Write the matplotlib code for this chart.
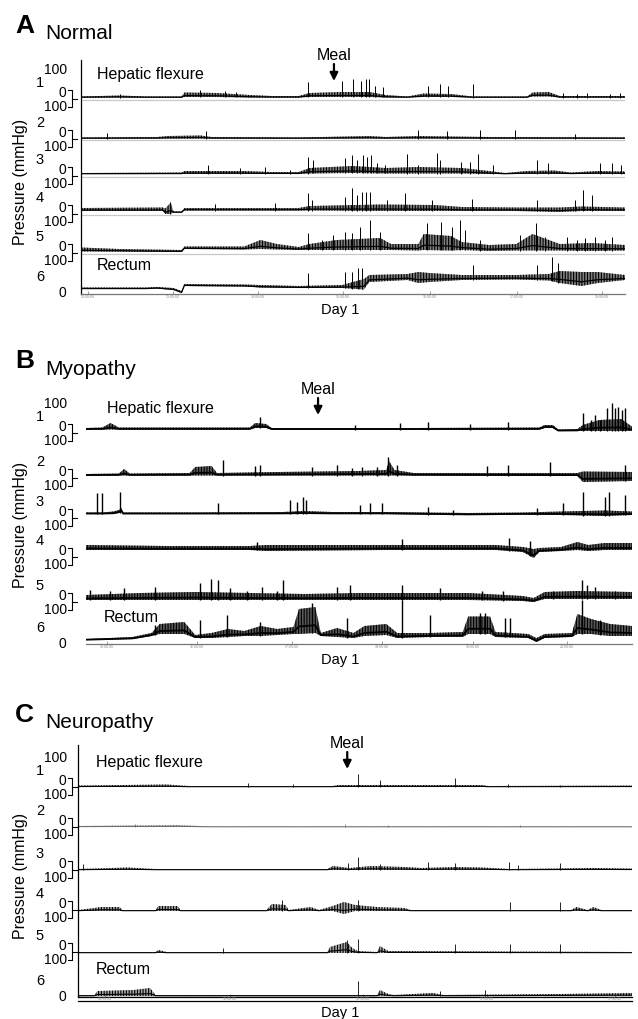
import matplotlib.pyplot as plt
import numpy as np
from matplotlib.lines import Line2D

plt.rcParams['font.family'] = ['Liberation Sans', 'DejaVu Sans']
plt.rcParams['hatch.linewidth'] = 0.8

# ===== data: (time %, low, high) envelope knots in mmHg, spikes as (time %, peak mmHg) =====
# ---- A: Normal ----
normal_ch1 = [(0, 10, 14), (7, 10, 18), (12, 10, 14), (18.5, 10, 14), (19, 12, 30), (25, 12, 28),
              (31, 10, 20), (35, 10, 16), (40, 10, 16), (42, 12, 28), (48, 12, 32), (53, 12, 32),
              (56, 10, 20), (60, 10, 14), (63, 12, 26), (68, 12, 24), (72, 10, 14), (82, 10, 14),
              (83, 14, 30), (86, 14, 32), (88, 10, 16), (100, 10, 16)]
normal_ch1_spikes = [(7.2, 24), (21.9, 40), (26.5, 36), (28.5, 32), (41.7, 72), (48.0, 76), (50.0, 84),
                     (51.5, 76), (52.4, 84), (52.9, 84), (54.0, 56), (55.5, 52), (63.8, 56), (66.0, 64),
                     (67.5, 56), (72.1, 64), (88.6, 28), (91.2, 24), (93.0, 28), (97.2, 24), (99.1, 28)]
normal_ch2 = [(0, 6, 10), (14, 6, 12), (16, 6, 16), (22, 6, 18), (24, 6, 12), (40, 6, 10), (53, 6, 16),
              (56, 6, 12), (62, 6, 16), (68, 6, 14), (75, 6, 12), (100, 6, 10)]
normal_ch2_spikes = [(4.8, 28), (23.0, 36), (62.0, 40), (67.3, 36), (73.3, 40), (79.8, 40), (90.8, 24)]
normal_ch3 = [(0, 12, 16), (18.5, 12, 18), (19, 12, 24), (30, 12, 24), (35, 12, 20), (40, 12, 20),
              (42, 14, 36), (50, 16, 44), (56, 14, 36), (62, 14, 40), (70, 14, 36), (75, 12, 24),
              (78, 12, 16), (82, 12, 24), (87, 12, 26), (90, 12, 18), (95, 12, 24), (100, 12, 22)]
normal_ch3_spikes = [(23.3, 48), (29.2, 36), (33.8, 40), (38.4, 28), (41.7, 80), (42.6, 68), (48.5, 76),
                     (49.8, 88), (50.7, 68), (51.8, 88), (52.6, 80), (53.3, 88), (54.4, 56), (55.9, 48),
                     (59.9, 92), (61.9, 48), (65.4, 96), (66.0, 68), (69.9, 60), (71.5, 60), (73.0, 92),
                     (75.7, 48), (83.8, 68), (85.8, 56), (95.4, 56), (97.6, 56), (99.3, 48)]
normal_ch4 = [(0, 16, 28), (15, 16, 30), (15.5, 4, 26), (16.5, 4, 50), (17, 10, 14), (18.5, 10, 14),
              (19, 18, 28), (40, 18, 28), (42, 18, 36), (55, 16, 42), (65, 16, 40), (70, 16, 32),
              (80, 16, 30), (88, 12, 30), (92, 16, 34), (100, 16, 30)]
normal_ch4_spikes = [(16.4, 52), (24.6, 44), (35.7, 48), (41.7, 88), (42.5, 60), (48.5, 72), (49.8, 108),
                     (50.7, 80), (51.7, 92), (52.4, 92), (53.1, 92), (56.3, 60), (59.6, 88), (64.5, 60),
                     (71.9, 64), (83.8, 60), (90.8, 60), (92.3, 100), (93.9, 80)]
normal_ch5 = [(0, 10, 26), (7, 10, 20), (18.5, 8, 16), (19, 20, 30), (30, 18, 30), (33, 20, 56),
              (36, 18, 40), (40, 16, 28), (42, 16, 40), (47, 16, 56), (55, 16, 64), (57, 16, 40),
              (62, 14, 40), (63, 16, 80), (68, 14, 72), (70, 16, 48), (75, 12, 36), (80, 14, 40),
              (83, 14, 80), (86, 14, 56), (88, 14, 40), (94, 12, 44), (100, 14, 36)]
normal_ch5_spikes = [(41.7, 84), (44.3, 56), (46.3, 76), (48.5, 88), (49.8, 84), (51.3, 108), (53.1, 136),
                     (55.0, 88), (63.6, 124), (66.2, 128), (68.2, 108), (69.7, 136), (70.6, 96),
                     (73.3, 56), (80.7, 76), (83.6, 124), (85.3, 68), (89.3, 68), (91.2, 56), (92.6, 64),
                     (94.5, 68), (96.3, 56), (97.6, 68)]
normal_ch6 = [(0, 16, 22), (12, 16, 22), (14, 18, 24), (17, 12, 20), (18.5, 0, 8), (19, 28, 36),
              (30, 26, 34), (33, 22, 32), (40, 20, 28), (48, 20, 32), (52, 14, 56), (53, 44, 72),
              (60, 52, 76), (62, 40, 84), (64, 44, 80), (70, 52, 72), (80, 54, 72), (86, 50, 76),
              (88, 40, 88), (92, 28, 84), (95, 40, 84), (100, 52, 72)]
normal_ch6_spikes = [(41.7, 80), (48.5, 84), (49.8, 84), (50.9, 100), (51.7, 100), (72.1, 112),
                     (83.8, 112), (86.6, 144), (87.7, 120)]
normal_meal = 46.5
normal_ticks = ['12:00:00', '13:00:00', '14:00:00', '15:00:00', '16:00:00', '17:00:00', '18:00:00']

# ---- B: Myopathy ----
myo_ch1 = [(0, 18, 24), (3, 18, 26), (4.5, 18, 44), (6, 18, 26), (30, 18, 26), (31, 24, 44), (33, 24, 40),
           (34, 18, 24), (60, 18, 24), (83, 18, 26), (84, 24, 36), (85.5, 24, 36), (86.5, 12, 18),
           (90, 12, 20), (91, 12, 36), (94, 12, 56), (98, 12, 60), (100, 12, 30)]
myo_ch1_spikes = [(31.9, 68), (49.3, 36), (57.5, 44), (62.6, 48), (70.3, 40), (77.3, 48), (91.0, 84),
                  (92.5, 56), (93.2, 76), (94.1, 56), (95.4, 104), (96.3, 124), (96.9, 104), (97.4, 108),
                  (98.2, 96), (98.7, 104)]
myo_ch2 = [(0, 14, 20), (6, 14, 22), (7, 14, 40), (8, 14, 22), (19, 14, 24), (20, 14, 48), (23, 14, 52),
           (24, 14, 24), (35, 14, 28), (50, 14, 32), (55, 14, 36), (55.5, 14, 72), (56.5, 14, 36),
           (60, 14, 24), (90, 12, 24), (91, -12, 30), (100, -8, 28)]
myo_ch2_spikes = [(25.1, 76), (31.0, 52), (31.9, 56), (41.4, 48), (46.0, 56), (48.7, 44), (50.5, 48),
                  (53.3, 48), (55.3, 88), (57.0, 56), (73.4, 52), (77.3, 56), (85.0, 68), (98.7, 56)]
myo_ch3 = [(0, 20, 26), (3, 20, 26), (5, 20, 30), (6, 24, 36), (6.5, 28, 44), (6.8, 20, 26), (20, 20, 26),
           (36, 20, 28), (40, 20, 32), (45, 20, 28), (55, 20, 28), (70, 16, 24), (80, 18, 26),
           (87, 16, 30), (95, 12, 34), (100, 16, 30)]
myo_ch3_spikes = [(2.0, 104), (2.9, 104), (6.2, 108), (24.2, 64), (37.4, 76), (38.6, 68), (39.7, 88),
                  (40.3, 76), (50.2, 56), (52.0, 64), (54.2, 64), (62.6, 48), (67.2, 36), (82.6, 44),
                  (87.4, 64), (91.0, 108), (95.1, 88), (95.8, 108), (98.7, 96)]
myo_ch4 = [(0, 32, 52), (15, 32, 48), (30, 32, 48), (33, 28, 52), (55, 32, 52), (75, 32, 52), (80, 24, 44),
           (82, 0, 36), (83, 24, 40), (87, 28, 44), (90, 32, 64), (92, 28, 52), (95, 32, 60), (100, 32, 60)]
myo_ch4_spikes = [(31.3, 64), (57.9, 76), (77.5, 80), (81.3, 68)]
myo_ch5 = [(0, 12, 32), (10, 12, 40), (20, 12, 44), (30, 12, 40), (40, 12, 36), (50, 12, 40), (60, 12, 40),
           (70, 12, 40), (80, 8, 28), (82, 4, 20), (84, 16, 44), (90, 16, 48), (100, 16, 44)]
myo_ch5_spikes = [(0.7, 52), (4.4, 48), (7.0, 60), (12.6, 64), (20.9, 80), (22.9, 96), (24.2, 92),
                  (26.4, 60), (29.5, 48), (32.2, 64), (35.0, 48), (36.1, 92), (46.0, 64), (48.4, 72),
                  (57.9, 72), (64.8, 60), (72.5, 48), (76.4, 48), (85.5, 48), (90.8, 92), (91.8, 72),
                  (93.2, 64), (96.9, 48)]
myo_ch6 = [(0, 16, 20), (8.5, 20, 28), (12, 32, 44), (13.5, 40, 80), (18, 40, 88), (20, 24, 36),
           (23, 24, 44), (26, 28, 60), (29, 32, 52), (32, 32, 72), (35, 36, 60), (38, 40, 68),
           (39, 40, 140), (42, 44, 148), (43, 32, 44), (46, 28, 64), (49, 24, 44), (51, 32, 72),
           (55, 36, 80), (57, 24, 44), (63, 28, 44), (69, 28, 48), (70, 40, 110), (74, 40, 110),
           (75, 28, 48), (81, 24, 40), (82.5, 8, 24), (84, 24, 40), (89, 28, 44), (90, 40, 120),
           (92.5, 40, 100), (96, 32, 80), (100, 32, 72)]
myo_ch6_spikes = [(12.6, 76), (20.9, 96), (25.8, 116), (31.9, 88), (41.4, 164), (47.8, 104), (57.9, 176),
                  (63.0, 116), (72.2, 124), (73.1, 124), (76.7, 104), (77.7, 104), (90.8, 176), (94.1, 96)]
myo_meal = 42.5
myo_ticks = ['15:00:00', '16:00:00', '17:00:00', '18:00:00', '19:00:00', '20:00:00']

# ---- C: Neuropathy ----
neuro_ch1 = [(0, 4, 10), (16, 4, 14), (20, 4, 8), (46, 4, 8), (47, 4, 12), (73, 4, 12), (74, 4, 8),
             (100, 4, 10)]
neuro_ch1_spikes = [(30.7, 20), (38.8, 16), (50.5, 56), (54.5, 32), (68.1, 40), (77.6, 16), (87.0, 12)]
neuro_ch2 = [(0, 4, 8), (18, 4, 12), (24, 4, 6), (100, 4, 6)]
neuro_ch2_spikes = [(10.3, 16), (48.2, 16), (56.0, 12), (79.8, 12)]
neuro_ch3 = [(0, 4, 8), (9, 4, 14), (14, 4, 8), (45, 4, 8), (46, 4, 20), (49, 4, 12), (53, 4, 20),
             (59, 4, 16), (62, 4, 12), (68, 4, 16), (73, 4, 14), (78, 4, 8), (93, 4, 12), (100, 4, 10)]
neuro_ch3_spikes = [(0.9, 28), (48.7, 32), (50.5, 56), (54.5, 28), (63.2, 36), (68.1, 32), (77.8, 36),
                    (79.4, 24), (87.0, 32)]
neuro_ch4 = [(0, 0, 4), (3, 0, 12), (4, 0, 16), (7.5, 0, 16), (8, 0, 4), (14, 0, 4), (14.5, 0, 20),
             (18, 0, 20), (18.5, 0, 4), (34, 0, 4), (35, 0, 28), (37.5, 0, 24), (38, 0, 4), (42, 0, 16),
             (43.5, 0, 4), (46, 0, 20), (48, -12, 36), (50, 0, 24), (54, 0, 16), (59, 0, 12), (60, 0, 4),
             (89, 0, 4), (90, 0, 16), (92, 0, 4), (93, 0, 16), (94.5, 0, 4), (100, 0, 4)]
neuro_ch4_spikes = [(36.8, 44), (50.5, 44), (78.0, 36), (87.0, 36)]
neuro_ch5 = [(0, 0, 4), (14, 0, 4), (14.5, 0, 12), (16, 0, 4), (45, 0, 4), (45.5, 0, 24), (48.5, 0, 44),
             (49.5, 0, 20), (50.5, 0, 8), (54, 0, 4), (54.5, 0, 28), (56, 0, 8), (100, 0, 4)]
neuro_ch5_spikes = [(26.2, 20), (48.6, 52), (50.5, 56), (68.1, 36), (78.0, 36), (87.0, 36)]
neuro_ch6 = [(0, 4, 8), (3, 4, 8), (3.5, 4, 24), (10, 4, 28), (13, 4, 36), (14, 4, 8), (27, 4, 8),
             (54, 4, 8), (54.5, 4, 28), (56, 4, 12), (57, 4, 8), (64, 4, 16), (66, 4, 8), (87, 4, 12),
             (100, 4, 16)]
neuro_ch6_spikes = [(50.5, 64), (65.3, 24), (73.5, 28)]
neuro_meal = 48.6
neuro_ticks = ['15:30:00', '16:00:00', '16:30:00', '17:00:00', '17:30:00']

# ===== layout (figure pixels) =====
W, H = 638, 1019
PX = 4.0  # mmHg per pixel
fig = plt.figure(figsize=(W / 100, H / 100), dpi=100)


def fx(x):
    return x / W


def fy(y):
    return 1 - y / H


def ftext(x, y, s, **kw):
    fig.text(fx(x), fy(y), s, **kw)


def fline(xs, ys, **kw):
    fig.add_artist(Line2D([fx(v) for v in xs], [fy(v) for v in ys], **kw))


def draw_trace(ax, off, knots, spikes, color='black', lw=0.7, shade=0.3):
    t = np.array([k[0] for k in knots])
    lo = np.array([k[1] for k in knots])
    hi = np.array([k[2] for k in knots])
    # dense activity: hatched envelope over a solid lower trace
    ax.fill_between(t, off + lo, off + hi, facecolor=color, alpha=shade, linewidth=0)
    ax.fill_between(t, off + lo, off + hi, facecolor='none', edgecolor=color, hatch='||||||',
                    linewidth=0)
    ax.plot(t, off + lo + (hi - lo) * 0.3, color=color, lw=lw * 1.3)
    st = np.array([s[0] for s in spikes])
    sh = np.array([s[1] for s in spikes])
    ax.vlines(st, off + np.interp(st, t, lo), off + sh, color=color, linewidth=lw)


def panel(letter, title, box, zs, traces, meal, ticks, tick_pos, title_y, hep_x, rect_x,
          meal_y, lw, spine_left, gray_zero, shade, bottom2=None):
    left, right, top, bottom = box
    ax = fig.add_axes([fx(left), fy(bottom), (right - left) / W, (bottom - top) / H])
    ax.set_xlim(0, 100)
    ax.set_ylim(0, (bottom - top) * PX)
    for s in ['top', 'right']:
        ax.spines[s].set_visible(False)
    ax.spines['left'].set_visible(spine_left)
    ax.spines['left'].set_linewidth(0.9)
    ax.spines['bottom'].set_color('#777777' if bottom2 is None else 'black')
    ax.spines['bottom'].set_linewidth(0.9)
    ax.set_yticks([])
    ax.set_xticks(tick_pos)
    ax.set_xticklabels([])
    ax.tick_params(axis='x', length=2, width=0.5, color='#777777', direction='in')
    for p, lab in zip(tick_pos, ticks):
        ax.text(p, -1.5 * PX if bottom2 is None else -0.5 * PX, lab, fontsize=2.6, color='#888888',
                ha='center', va='top', clip_on=False)

    for i, (z, (knots, spikes)) in enumerate(zip(zs, traces)):
        off = (bottom - z) * PX
        if gray_zero and i < 5:
            ax.axhline(off, color='#c8c8c8', lw=0.9, zorder=0)
        col, w = ('#666666', 0.5) if (letter == 'C' and i == 1) else ('black', lw)
        draw_trace(ax, off, knots, spikes, color=col, lw=w, shade=shade)
    if bottom2 is not None:
        ax.axhline((bottom - zs[5]) * PX, color='black', lw=0.9)

    # channel labels and axis-break brackets
    ftext(67, zs[0] - 30, '100', fontsize=10, ha='right', va='center')
    for i, z in enumerate(zs):
        ftext(40, z - 17 if i < 5 else z - 16, str(i + 1), fontsize=10.5, ha='center', va='center')
        if i < 5:
            ftext(66, z - 7, '0', fontsize=10, ha='right', va='center')
            ftext(67, z + 7, '100', fontsize=10, ha='right', va='center')
            fline([67.5, 72, 72, 67.5], [z - 10, z - 10, z + 7, z + 7], color='black', lw=0.8)
            fline([72, 77], [z - 1, z - 1], color='black', lw=0.8)
        else:
            ftext(66, z, '0', fontsize=10, ha='right', va='center')

    ftext(15, title_y[0], letter, fontsize=19, fontweight='bold', ha='left', va='baseline')
    ftext(45, title_y[1], title, fontsize=15, ha='left', va='baseline')
    ftext(hep_x, zs[0] - 26, 'Hepatic flexure', fontsize=11.5, ha='left', va='center')
    ftext(rect_x, zs[5] - 27, 'Rectum', fontsize=11.5, ha='left', va='center')
    ftext(21, (top + bottom) / 2 + 5, 'Pressure (mmHg)', fontsize=11.5, rotation=90,
          ha='center', va='center')
    ftext(340, bottom + 16, 'Day 1', fontsize=10.5, ha='center', va='center')

    # meal marker
    mx = left + meal / 100 * (right - left)
    ftext(mx, meal_y - 8, 'Meal', fontsize=11.5, ha='center', va='center')
    ax.annotate('', xy=(meal, fy(meal_y + 17)), xytext=(meal, fy(meal_y)),
                xycoords=('data', 'figure fraction'), textcoords=('data', 'figure fraction'),
                arrowprops=dict(arrowstyle='-|>', color='black', lw=1.6, mutation_scale=12,
                                shrinkA=0, shrinkB=0), annotation_clip=False)
    if bottom2 is not None:
        fline([left, right], [bottom2, bottom2], color='black', lw=0.9)
    return ax


normal_traces = [(normal_ch1, normal_ch1_spikes), (normal_ch2, normal_ch2_spikes),
                 (normal_ch3, normal_ch3_spikes), (normal_ch4, normal_ch4_spikes),
                 (normal_ch5, normal_ch5_spikes), (normal_ch6, normal_ch6_spikes)]
myo_traces = [(myo_ch1, myo_ch1_spikes), (myo_ch2, myo_ch2_spikes), (myo_ch3, myo_ch3_spikes),
              (myo_ch4, myo_ch4_spikes), (myo_ch5, myo_ch5_spikes), (myo_ch6, myo_ch6_spikes)]
neuro_traces = [(neuro_ch1, neuro_ch1_spikes), (neuro_ch2, neuro_ch2_spikes),
                (neuro_ch3, neuro_ch3_spikes), (neuro_ch4, neuro_ch4_spikes),
                (neuro_ch5, neuro_ch5_spikes), (neuro_ch6, neuro_ch6_spikes)]

panel('A', 'Normal', (81, 625, 60, 294), [100, 140, 177, 215, 254, 293], normal_traces,
      normal_meal, normal_ticks, [1.3, 16.9, 32.5, 48.2, 64.2, 80.1, 95.8], (33, 39), 97, 97,
      64, 0.7, True, True, 0.5)
panel('B', 'Myopathy', (86, 632, 395, 644), [434, 479, 519, 558, 603, 644], myo_traces,
      myo_meal, myo_ticks, [3.8, 20.3, 37.7, 54.2, 70.9, 88.1], (368, 375), 107, 104,
      398, 1.0, False, False, 0.65)
panel('C', 'Neuropathy', (78, 632, 745, 997), [788, 828, 871, 911, 953, 997], neuro_traces,
      neuro_meal, neuro_ticks, [4.9, 27.4, 51.4, 73.8, 96.9], (722, 728), 96, 96,
      752, 0.6, True, False, 0.35, bottom2=1001)

plt.savefig('out.png', dpi=100)
